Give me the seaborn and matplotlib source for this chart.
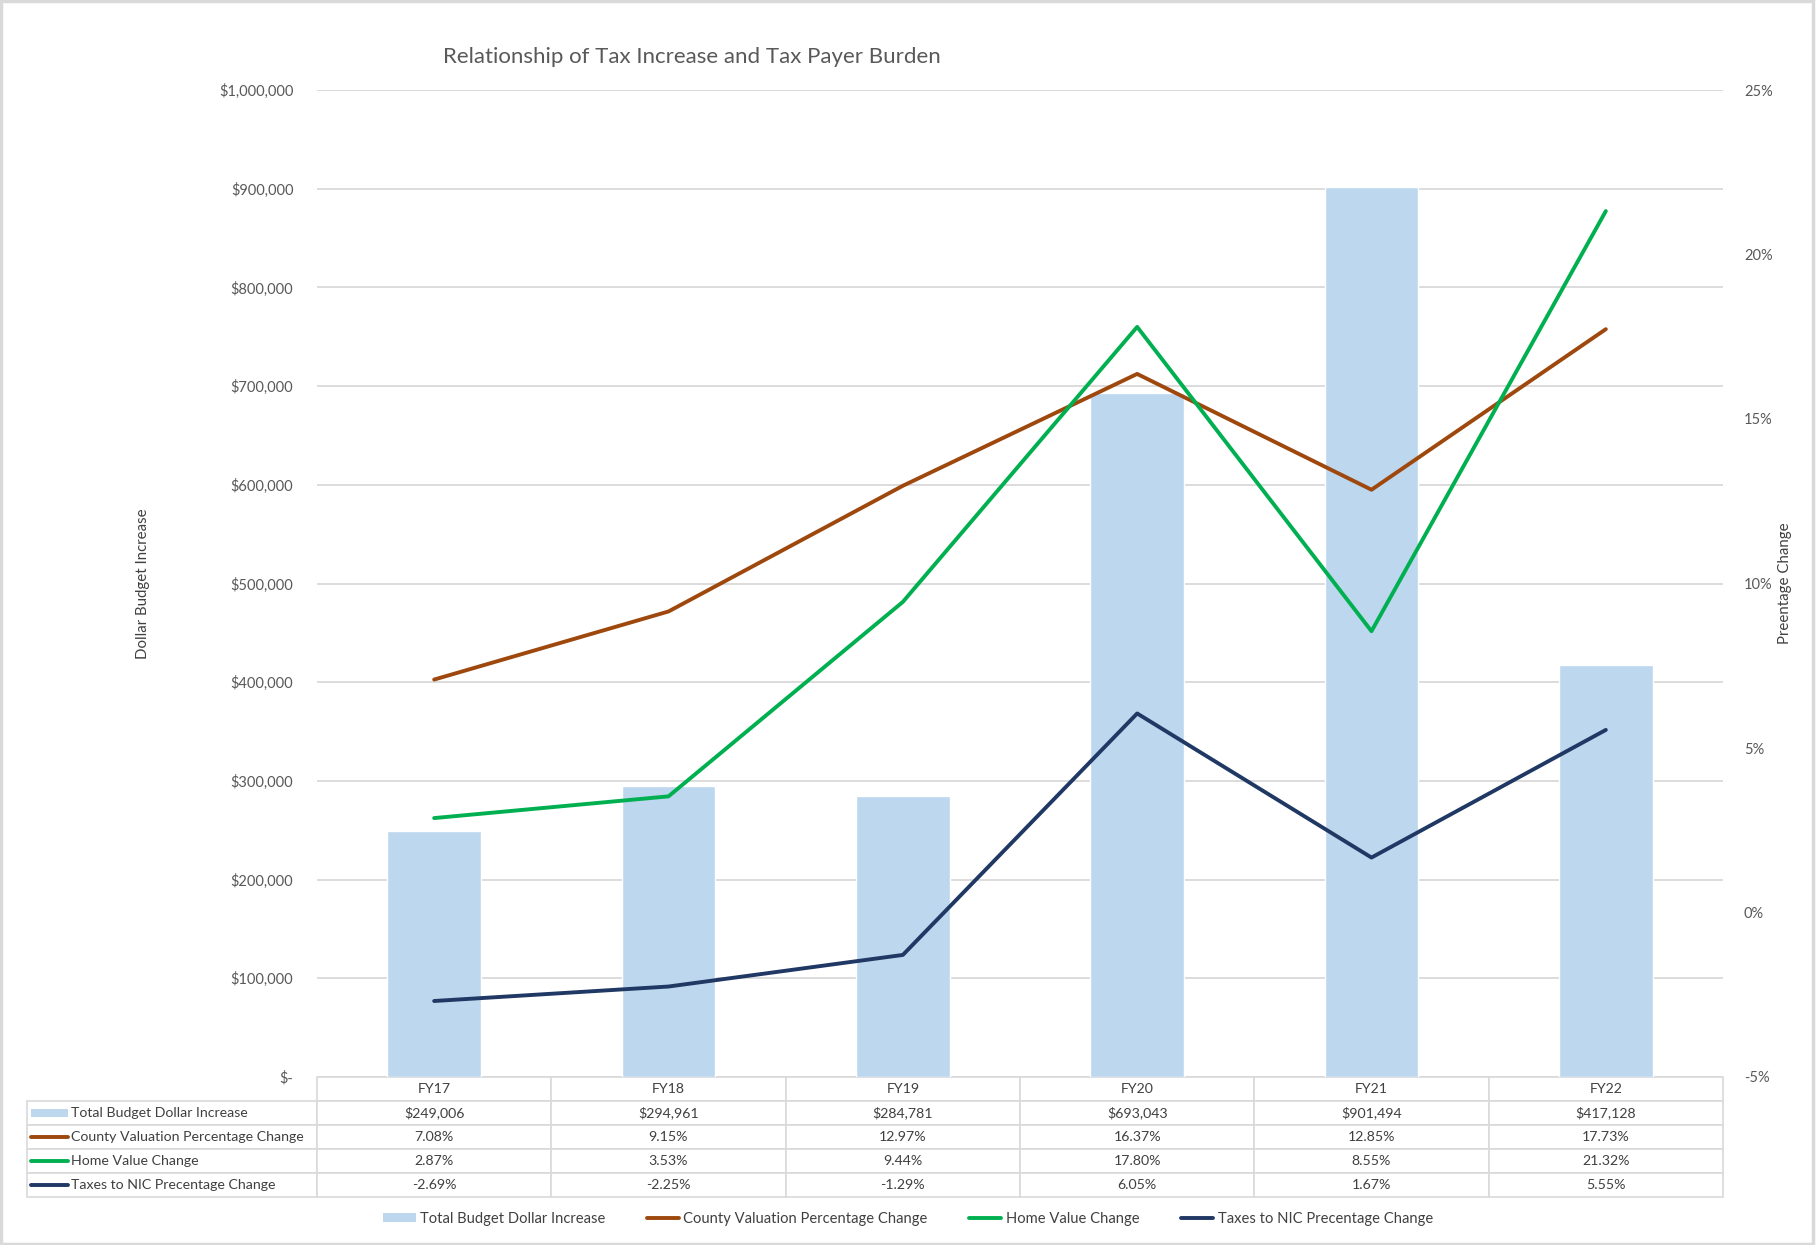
import numpy as np
import pandas as pd
import matplotlib
matplotlib.use("Agg")
import matplotlib.pyplot as plt
from matplotlib.table import Table
from matplotlib.lines import Line2D
from matplotlib.patches import Rectangle, Patch
from matplotlib.ticker import FuncFormatter, MultipleLocator
import seaborn as sns

# ---------------- data ----------------
categories = ["FY17", "FY18", "FY19", "FY20", "FY21", "FY22"]
budget_increase = [249006, 294961, 284781, 693043, 901494, 417128]
county_valuation_pct = [7.08, 9.15, 12.97, 16.37, 12.85, 17.73]
home_value_pct = [2.87, 3.53, 9.44, 17.80, 8.55, 21.32]
taxes_nic_pct = [-2.69, -2.25, -1.29, 6.05, 1.67, 5.55]

series_names = ["Total Budget Dollar Increase",
                "County Valuation Percentage Change",
                "Home Value Change",
                "Taxes to NIC Precentage Change"]
title_text = "Relationship of Tax Increase and Tax Payer Burden"
left_label = "Dollar Budget Increase"
right_label = "Preentage Change"

# ---------------- style ----------------
sns.set_theme(style="white")
plt.rcParams['font.family'] = ['Lato', 'DejaVu Sans']

BAR_C = "#BDD7EE"
BROWN = "#9E480E"
GREEN = "#00B050"
NAVY = "#203864"
GRID = "#D9D9D9"
TXT = "#595959"
TTXT = "#404040"

W, H, DPI = 1816, 1245, 100
fig = plt.figure(figsize=(W / DPI, H / DPI), dpi=DPI)
fig.patch.set_facecolor("white")

ax_l, ax_r, ax_t, ax_b = 317, 1723, 90, 1077
ax = fig.add_axes([ax_l / W, 1 - ax_b / H, (ax_r - ax_l) / W, (ax_b - ax_t) / H])
ax2 = ax.twinx()

pos = list(range(len(categories)))
df = pd.DataFrame({"cat": categories, "budget": budget_increase})
sns.barplot(data=df, x="cat", y="budget", ax=ax, color=BAR_C, saturation=1,
            width=0.4, order=categories)

sns.lineplot(x=pos, y=county_valuation_pct, ax=ax2, color=BROWN, linewidth=2.8)
sns.lineplot(x=pos, y=home_value_pct, ax=ax2, color=GREEN, linewidth=2.8)
sns.lineplot(x=pos, y=taxes_nic_pct, ax=ax2, color=NAVY, linewidth=2.8)

ax.set_xlim(-0.5, len(categories) - 0.5)
ax.set_ylim(0, 1000000)
ax2.set_ylim(-5, 25)
ax.yaxis.set_major_locator(MultipleLocator(100000))
ax2.yaxis.set_major_locator(MultipleLocator(5))

ax.yaxis.set_major_formatter(FuncFormatter(lambda v, p: "$-" if v == 0 else f"${v:,.0f}"))
ax2.yaxis.set_major_formatter(FuncFormatter(lambda v, p: f"{v:.0f}%"))

ax.grid(axis="y", color=GRID, linewidth=1.3)
ax.grid(axis="x", visible=False)
ax2.grid(False)
ax.set_axisbelow(True)

for a in (ax, ax2):
    for s in a.spines.values():
        s.set_visible(False)
ax.set_xlabel("")
ax.set_xticks([])
ax.tick_params(axis="y", length=0, pad=17, labelsize=10.5, labelcolor=TXT)
ax2.tick_params(axis="y", length=0, pad=15, labelsize=10.5, labelcolor=TXT)

ax.set_ylabel(left_label, fontsize=10.8, color=TTXT)
ax.yaxis.set_label_coords((150 - ax_l) / (ax_r - ax_l), 0.5)
ax2.set_ylabel(right_label, fontsize=10.8, color=TTXT)
ax2.yaxis.set_label_coords((1778 - ax_l) / (ax_r - ax_l), 0.5)

fig.text(692 / W, 1 - 57 / H, title_text, ha="center", va="center",
         fontsize=16, color=TXT)

# ---------------- data table ----------------
t_l, t_r, t_t, t_b = 27, 1723, 1077, 1197
row_h = (t_b - t_t) / 5.0
lab_w = ax_l - t_l
col_w = (ax_r - ax_l) / len(categories)

tbl = Table(ax, bbox=[(t_l - ax_l) / (ax_r - ax_l), -(t_b - t_t) / (ax_b - ax_t),
                      (t_r - t_l) / (ax_r - ax_l), (t_b - t_t) / (ax_b - ax_t)])
rows_text = [
    [f"${v:,.0f}" for v in budget_increase],
    [f"{v:.2f}%" for v in county_valuation_pct],
    [f"{v:.2f}%" for v in home_value_pct],
    [f"{v:.2f}%" for v in taxes_nic_pct],
]
for j, c in enumerate(categories):
    tbl.add_cell(0, j + 1, width=col_w, height=row_h, text=c, loc="center",
                 facecolor="white", edgecolor=GRID)
for i, (name, vals) in enumerate(zip(series_names, rows_text)):
    cell = tbl.add_cell(i + 1, 0, width=lab_w, height=row_h, text=name, loc="left",
                        facecolor="white", edgecolor=GRID)
    cell.PAD = (71 - t_l) / lab_w
    for j, v in enumerate(vals):
        tbl.add_cell(i + 1, j + 1, width=col_w, height=row_h, text=v, loc="center",
                     facecolor="white", edgecolor=GRID)
tbl.auto_set_font_size(False)
tbl.set_fontsize(10.2)
for cell in tbl.get_celld().values():
    cell.set_linewidth(1.2)
    cell.get_text().set_color(TTXT)
ax.add_table(tbl)
tbl.set_clip_on(False)

# legend keys inside the table
key_colors = [None, BROWN, GREEN, NAVY]
for i, kc in enumerate(key_colors):
    yc = 1 - (t_t + row_h * (i + 1.5)) / H
    if kc is None:
        fig.add_artist(Rectangle((31 / W, yc - 4 / H), 37 / W, 8 / H,
                                 transform=fig.transFigure, facecolor=BAR_C,
                                 edgecolor="none", zorder=5))
    else:
        fig.add_artist(Line2D([31 / W, 68 / W], [yc, yc], transform=fig.transFigure,
                              color=kc, linewidth=2.8, solid_capstyle="round", zorder=5))

# ---------------- legend ----------------
handles = [Patch(facecolor=BAR_C, edgecolor="none"),
           Line2D([], [], color=BROWN, linewidth=2.8),
           Line2D([], [], color=GREEN, linewidth=2.8),
           Line2D([], [], color=NAVY, linewidth=2.8)]
leg = fig.legend(handles, series_names, loc="center", bbox_to_anchor=(0.5, 1 - 1219 / H),
                 ncol=4, frameon=False, fontsize=10.6, handlelength=2.2,
                 handleheight=0.6, handletextpad=0.3, columnspacing=2.8)
for t in leg.get_texts():
    t.set_color(TTXT)

# outer border
fig.add_artist(Rectangle((0.0005, 0.001), 0.998, 0.998, transform=fig.transFigure,
                         facecolor="none", edgecolor=GRID, linewidth=2.5))

fig.savefig("out.png", dpi=DPI)
